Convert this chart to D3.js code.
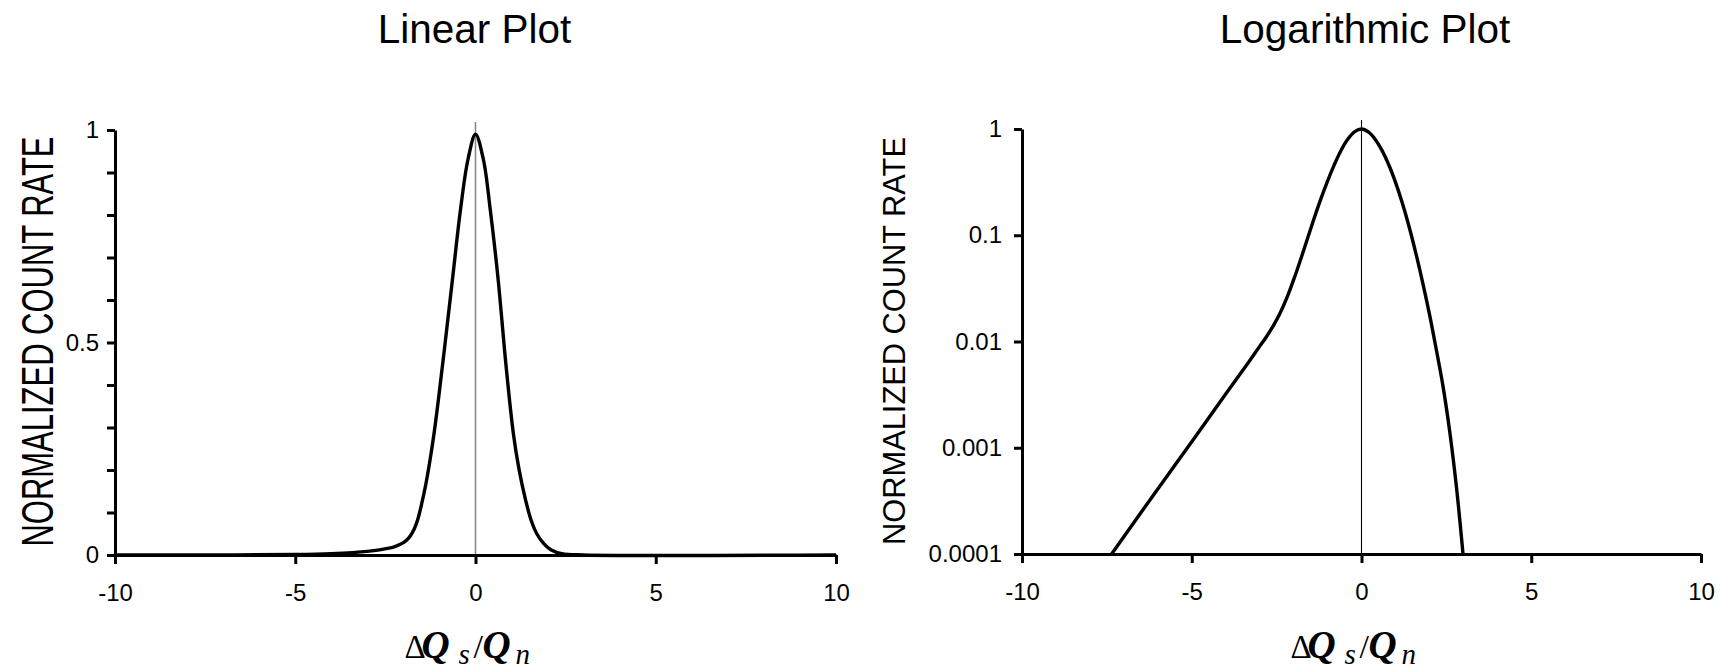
<!DOCTYPE html>
<html>
<head>
<meta charset="utf-8">
<script src="https://cdn.jsdelivr.net/npm/d3@7"></script>
<style>
  html, body { margin: 0; padding: 0; background: #fff; }
  svg { display: block; }
  text { font-family: "Liberation Sans", Arial, sans-serif; fill: #000; }
</style>
</head>
<body>
<svg id="chart" width="1720" height="667"></svg>
<script>
// Normalized count rate vs. relative charge deviation, linear panel
const linX = [-10, -7.4, -5, -4, -3, -2.4, -2.2, -2.0, -1.9, -1.8, -1.7, -1.6, -1.5, -1.37, -1.15, -0.92, -0.8, -0.63, -0.42, -0.21, 0,
              0.22, 0.41, 0.62, 0.85, 1.05, 1.2, 1.39, 1.55, 1.7, 1.9, 2.1, 2.4, 3.0, 10];
const linY = [0, 0.0001, 0.0011, 0.0032, 0.0085, 0.016, 0.021, 0.029, 0.036, 0.046, 0.061, 0.084, 0.118, 0.17, 0.286, 0.443, 0.53, 0.655, 0.81, 0.93, 0.99,
              0.93, 0.812, 0.655, 0.443, 0.286, 0.205, 0.129, 0.08, 0.05, 0.026, 0.012, 0.003, 0.0001, 0];

// Same quantity on a logarithmic axis
const logX = [-7.36, -6, -5, -4, -3.4, -3, -2.8, -2.6, -2.4, -2.2, -2.0, -1.8, -1.6, -1.4, -1.2, -1.0, -0.8, -0.6, -0.4, -0.2, 0,
              0.2, 0.4, 0.6, 0.8, 1.0, 1.2, 1.4, 1.6, 1.8, 2.0, 2.2, 2.4, 2.6, 2.8, 2.99];
const logY = [0.0001, 0.00041, 0.00114, 0.0032, 0.0059, 0.009, 0.0111, 0.014, 0.0184, 0.0257, 0.038, 0.0582, 0.0912, 0.143,
              0.219, 0.324, 0.462, 0.631, 0.804, 0.944, 1.0,
              0.938, 0.802, 0.632, 0.463, 0.316, 0.202, 0.121, 0.068, 0.0361, 0.0182, 0.0085, 0.0038, 0.00141, 0.000417, 0.0001];

// Axis ticks and labels
const xTicks = [-10, -5, 0, 5, 10];
const linYTicks = [0, 0.1, 0.2, 0.3, 0.4, 0.5, 0.6, 0.7, 0.8, 0.9, 1];
const linYLabeled = [0, 0.5, 1];
const logYTicks = [0.0001, 0.001, 0.01, 0.1, 1];
const logYLabels = ["0.0001", "0.001", "0.01", "0.1", "1"];
const panelTitles = ["Linear Plot", "Logarithmic Plot"];
const yTitle = "NORMALIZED COUNT RATE";

const svg = d3.select("#chart");

function styleAxis(g) {
  g.select(".domain").attr("stroke", "#000").attr("stroke-width", 3);
  g.selectAll(".tick line").attr("stroke", "#000").attr("stroke-width", 3);
  g.selectAll(".tick text").attr("fill", "#000")
    .style("font-family", '"Liberation Sans", Arial, sans-serif')
    .style("font-size", "24px");
}

// x-axis label ΔQs/Qn, each piece placed relative to the panel's zero position
function xAxisTitle(cx, baseline) {
  const serif = '"Liberation Serif", "DejaVu Serif", serif';
  const parts = [
    { t: "Δ", dx: -71, dy: 0, size: 33, style: "normal", weight: "normal" },
    { t: "Q", dx: -54, dy: 0, size: 39, style: "italic", weight: "bold" },
    { t: "s", dx: -17, dy: 6, size: 29, style: "italic", weight: "normal" },
    { t: "/", dx: -2, dy: 0, size: 34, style: "normal", weight: "normal" },
    { t: "Q", dx: 7, dy: 0, size: 39, style: "italic", weight: "bold" },
    { t: "n", dx: 40, dy: 6, size: 29, style: "italic", weight: "normal" }
  ];
  const g = svg.append("g").attr("class", "x-title");
  g.selectAll("text").data(parts).join("text")
    .attr("x", d => cx + d.dx).attr("y", d => baseline + d.dy)
    .style("font-family", serif)
    .style("font-size", d => d.size + "px")
    .style("font-style", d => d.style)
    .style("font-weight", d => d.weight)
    .text(d => d.t);
}

const curveLine = (x, y) => d3.line()
  .x(d => x(d[0])).y(d => y(d[1]))
  .curve(d3.curveCatmullRom.alpha(0.5));

// ---------- Linear panel ----------
{
  const x = d3.scaleLinear().domain([-10, 10]).range([115, 836]);
  const y = d3.scaleLinear().domain([0, 1]).range([555, 130]);

  // reference line at zero
  svg.append("line")
    .attr("x1", x(0)).attr("x2", x(0))
    .attr("y1", y(1) - 8).attr("y2", y(0))
    .attr("stroke", "#8a8a8a").attr("stroke-width", 1.6);

  svg.append("path")
    .datum(linX.map((v, i) => [v, linY[i]]))
    .attr("fill", "none").attr("stroke", "#000").attr("stroke-width", 3.4)
    .attr("stroke-linejoin", "round")
    .attr("d", curveLine(x, y));

  svg.append("g").attr("transform", `translate(0,${y(0)})`)
    .call(d3.axisBottom(x).tickValues(xTicks).tickSize(9).tickSizeOuter(0)
      .tickPadding(20).tickFormat(d => String(d)))
    .call(styleAxis);

  svg.append("g").attr("transform", `translate(${x(-10)},0)`)
    .call(d3.axisLeft(y).tickValues(linYTicks).tickSize(8).tickSizeOuter(0)
      .tickPadding(8).tickFormat(d => linYLabeled.some(v => Math.abs(v - d) < 1e-9) ? String(d) : ""))
    .call(styleAxis);

  svg.append("text")
    .attr("x", 474.5).attr("y", 43)
    .attr("text-anchor", "middle").style("font-size", "40.5px")
    .text(panelTitles[0]);

  svg.append("text")
    .attr("transform", "translate(52.5,341.5) rotate(-90)")
    .attr("text-anchor", "middle")
    .attr("textLength", 410).attr("lengthAdjust", "spacingAndGlyphs")
    .style("font-size", "44px")
    .text(yTitle);

  xAxisTitle(x(0), 658);
}

// ---------- Logarithmic panel ----------
{
  const x = d3.scaleLinear().domain([-10, 10]).range([1022, 1701]);
  const y = d3.scaleLog().domain([0.0001, 1]).range([554, 129]);

  svg.append("line")
    .attr("x1", x(0)).attr("x2", x(0))
    .attr("y1", y(1) - 9).attr("y2", y(0.0001))
    .attr("stroke", "#000").attr("stroke-width", 1.1);

  svg.append("path")
    .datum(logX.map((v, i) => [v, logY[i]]))
    .attr("fill", "none").attr("stroke", "#000").attr("stroke-width", 3.4)
    .attr("stroke-linejoin", "round")
    .attr("d", curveLine(x, y));

  svg.append("g").attr("transform", `translate(0,${y(0.0001)})`)
    .call(d3.axisBottom(x).tickValues(xTicks).tickSize(9).tickSizeOuter(0)
      .tickPadding(20).tickFormat(d => String(d)))
    .call(styleAxis);

  svg.append("g").attr("transform", `translate(${x(-10)},0)`)
    .call(d3.axisLeft(y).tickValues(logYTicks).tickSize(8).tickSizeOuter(0)
      .tickPadding(12).tickFormat((d, i) => logYLabels[i]))
    .call(styleAxis);

  svg.append("text")
    .attr("x", 1365).attr("y", 43)
    .attr("text-anchor", "middle").style("font-size", "40.5px")
    .text(panelTitles[1]);

  svg.append("text")
    .attr("transform", "translate(905,341) rotate(-90)")
    .attr("text-anchor", "middle")
    .attr("textLength", 408).attr("lengthAdjust", "spacingAndGlyphs")
    .style("font-size", "30.5px")
    .text(yTitle);

  xAxisTitle(x(0), 658);
}
</script>
</body>
</html>
